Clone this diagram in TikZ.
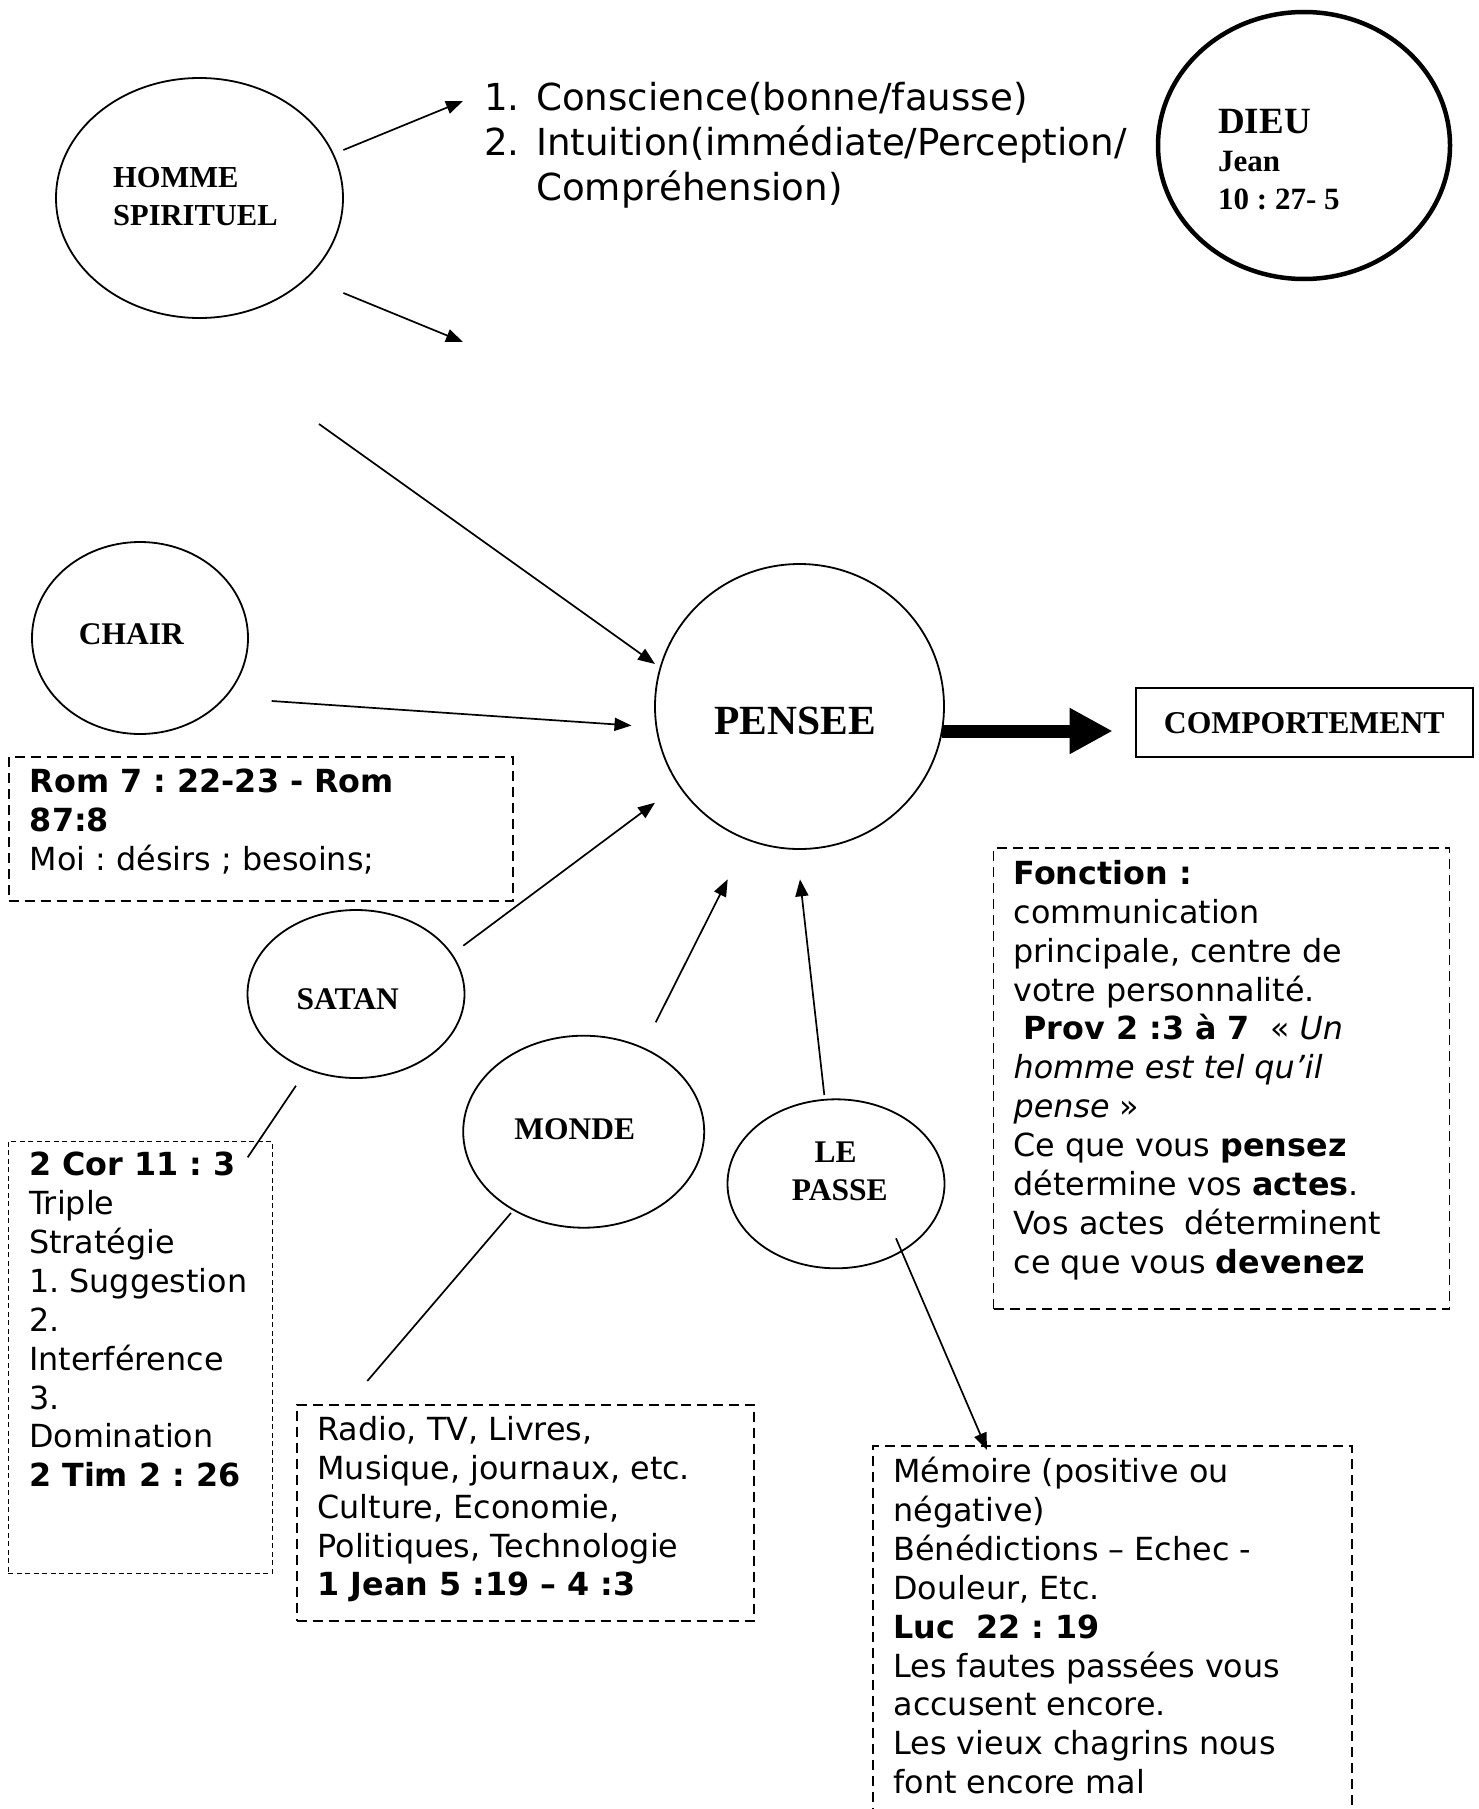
\documentclass[tikz,border=0pt]{standalone}
\usepackage{fontspec}
\setmainfont{Liberation Serif}
\newfontfamily\verdana{DejaVu Sans}
\usepackage{tikz}
\usetikzlibrary{calc}
\usetikzlibrary{shapes.geometric, arrows.meta, positioning}

\frenchspacing
\newcommand{\boxstrut}{\rule{0pt}{30pt}}

\begin{document}
\begin{tikzpicture}[x=1pt,y=-1pt,-,
                    circ node/.style={ellipse,draw,line width=1.8pt,inner sep=0pt},
                    lbl/.style={inner sep=0pt,anchor=base,font=\fontsize{31.5}{38}\selectfont\bfseries},
                    note/.style={draw,dash pattern=on 10pt off 6pt,line width=1.8pt,inner sep=0pt,anchor=north west},
                    txt/.style={inner sep=0pt,anchor=north west,align=left,
                                font=\verdana\fontsize{31.8}{38.9}\selectfont,execute at begin node=\boxstrut},
                    arr/.style={line width=1.7pt,-{Triangle[length=17pt,width=13pt]}}]

  \useasboundingbox (0,0) rectangle (1479,1809);

  % ellipses
  \node[circ node,minimum width=287pt,minimum height=240pt] (homme) at (199.5,198) {};
  \node[circ node,line width=4.5pt,minimum width=292pt,minimum height=267pt] (dieu) at (1304,145.5) {};
  \node[circ node,minimum width=289pt,minimum height=285pt] (pensee) at (799.5,706.5) {};
  \node[circ node,minimum width=216pt,minimum height=192pt] (chair) at (140,638) {};
  \node[circ node,minimum width=217pt,minimum height=168pt] (satan) at (356,994) {};
  \node[circ node,minimum width=241pt,minimum height=192pt] (monde) at (583.7,1131.7) {};
  \node[circ node,minimum width=217pt,minimum height=169pt] (passe) at (836,1183.8) {};

  \node[lbl,anchor=base west,font=\fontsize{30.5}{38}\selectfont\bfseries] (homme1) [shift={(-86.5,-11)}] at (homme) {HOMME};
  \node[lbl,anchor=base west,font=\fontsize{30.5}{38}\selectfont\bfseries] (homme2) [shift={(-86.5,27)}] at (homme) {SPIRITUEL};
  \node[lbl,anchor=base west,font=\fontsize{37}{38}\selectfont\bfseries] (dieu1) [shift={(-86,-12.5)}] at (dieu) {DIEU};
  \node[lbl,anchor=base west,font=\fontsize{31}{38}\selectfont\bfseries] (dieu2) [shift={(-86,25.5)}] at (dieu) {Jean};
  \node[lbl,anchor=base west,font=\fontsize{31}{38}\selectfont\bfseries] (dieu3) [shift={(-86,63.5)}] at (dieu) {10 : 27- 5};
  \node[lbl,font=\fontsize{41.5}{44}\selectfont\bfseries] (pensee1) [shift={(-4.5,27.5)}] at (pensee) {PENSEE};
  \node[lbl] (chair1) [shift={(-8.5,6.8)}] at (chair) {CHAIR};
  \node[lbl] (satan1) [shift={(-8.3,15.3)}] at (satan) {SATAN};
  \node[lbl] (monde1) [shift={(-9,7.6)}] at (monde) {MONDE};
  \node[lbl] (passe1) [shift={(-0.5,-21.5)}] at (passe) {LE};
  \node[lbl] (passe2) [shift={(3.8,16.2)}] at (passe) {PASSE};

  \node[draw,line width=1.8pt,minimum width=337pt,minimum height=69pt,inner sep=0pt,
        font=\fontsize{31.7}{38}\selectfont\bfseries] (comport) at (1304.2,722.8) {COMPORTEMENT};

  % top list
  \node[inner sep=0pt,anchor=north west,align=left,font=\verdana\fontsize{37.2}{45}\selectfont] (liste) at (484,77)
    {\rule{0pt}{33pt}\makebox[52pt][l]{1.}Conscience(bonne/fausse)\\
     \makebox[52pt][l]{2.}Intuition(immédiate/Perception/\\
     \makebox[52pt][l]{}Compréhension)};

  % dashed boxes
  \node[note,minimum width=504pt,minimum height=144pt] (rom) at (8,756) {};
  \node[note,dash pattern=on 5pt off 3.5pt,line width=1.2pt,minimum width=264pt,minimum height=432pt] (cor) at (7.7,1140.7) {};
  \node[note,minimum width=457pt,minimum height=216pt] (radio) at (296,1404.3) {};
  \node[note,minimum width=456pt,minimum height=461pt] (fonction) at (992.6,847) {};
  \node[note,minimum width=479pt,minimum height=520pt] (memoire) at (872,1444.7) {};

  \node[txt] (rom1) [shift={(21.7,13)}] at (rom.north west)
    {\textbf{Rom 7 : 22-23 - Rom}\\ \textbf{87:8}\\ Moi : désirs ; besoins;};
  \node[txt] (cor1) [shift={(21.3,11.1)}] at (cor.north west)
    {\textbf{2 Cor 11 : 3}\\ Triple\\ Stratégie\\ 1. Suggestion\\ 2.\\ Interférence\\ 3.\\ Domination\\ \textbf{2 Tim 2 : 26}};
  \node[txt] (radio1) [shift={(21.3,11.7)}] at (radio.north west)
    {Radio, TV, Livres,\\ Musique, journaux, etc.\\ Culture, Economie,\\ Politiques, Technologie\\ \textbf{1 Jean 5 :19 – 4 :3}};
  \node[txt] (fonction1) [shift={(20.8,13)}] at (fonction.north west)
    {\textbf{Fonction :}\\ communication\\ principale, centre de\\ votre personnalité.\\
     \hspace*{10pt}\textbf{Prov 2 :3 à 7}\hspace*{20pt}« \textit{Un}\\ \textit{homme est tel qu’il}\\ \textit{pense} »\\
     Ce que vous \textbf{pensez}\\ détermine vos \textbf{actes}.\\ Vos actes\hspace*{10pt} déterminent\\ ce que vous \textbf{devenez}};
  \node[txt] (memoire1) [shift={(21.3,12.2)}] at (memoire.north west)
    {Mémoire (positive ou\\ négative)\\ Bénédictions – Echec -\\ Douleur, Etc.\\ \textbf{Luc\hspace*{10pt} 22 : 19}\\
     Les fautes passées vous\\ accusent encore.\\ Les vieux chagrins nous\\ font encore mal};

  % connector ends
  \coordinate (h-a) at (343.4,150);
  \coordinate (h-b) at (463,101);
  \coordinate (h-c) at (343.4,293);
  \coordinate (h-d) at (463,342);
  \coordinate (h-e) at (319,424);
  \coordinate (p-h) at (655,664);
  \coordinate (c-a) at (271.7,701);
  \coordinate (p-c) at (631.5,725.5);
  \coordinate (s-a) at (463.3,945.7);
  \coordinate (p-s) at (655,802.7);
  \coordinate (s-b) at (296,1085.7);
  \coordinate (cor-a) at (247.7,1157.3);
  \coordinate (m-a) at (655.7,1022.3);
  \coordinate (p-m) at (727.7,879.3);
  \coordinate (m-b) at (511,1213);
  \coordinate (radio-a) at (367.3,1381);
  \coordinate (l-a) at (824.3,1095);
  \coordinate (p-l) at (800,879.3);
  \coordinate (l-b) at (896,1238.3);
  \coordinate (mem-a) at (987,1450);
  \coordinate (p-out) at (942,731);
  \coordinate (comp-in) at (1112.7,731);

  \path[arr]
  (h-a) edge (h-b)
  (h-c) edge (h-d)
  (h-e) edge (p-h)
  (c-a) edge (p-c)
  (s-a) edge (p-s)
  (m-a) edge (p-m)
  (l-a) edge (p-l)
  (l-b) edge (mem-a);

  \path[line width=1.7pt]
  (s-b) edge (cor-a)
  (m-b) edge (radio-a);

  \path[line width=13pt,-{Triangle[length=43pt,width=43pt]}]
  (p-out) edge (comp-in);

\end{tikzpicture}
\end{document}
